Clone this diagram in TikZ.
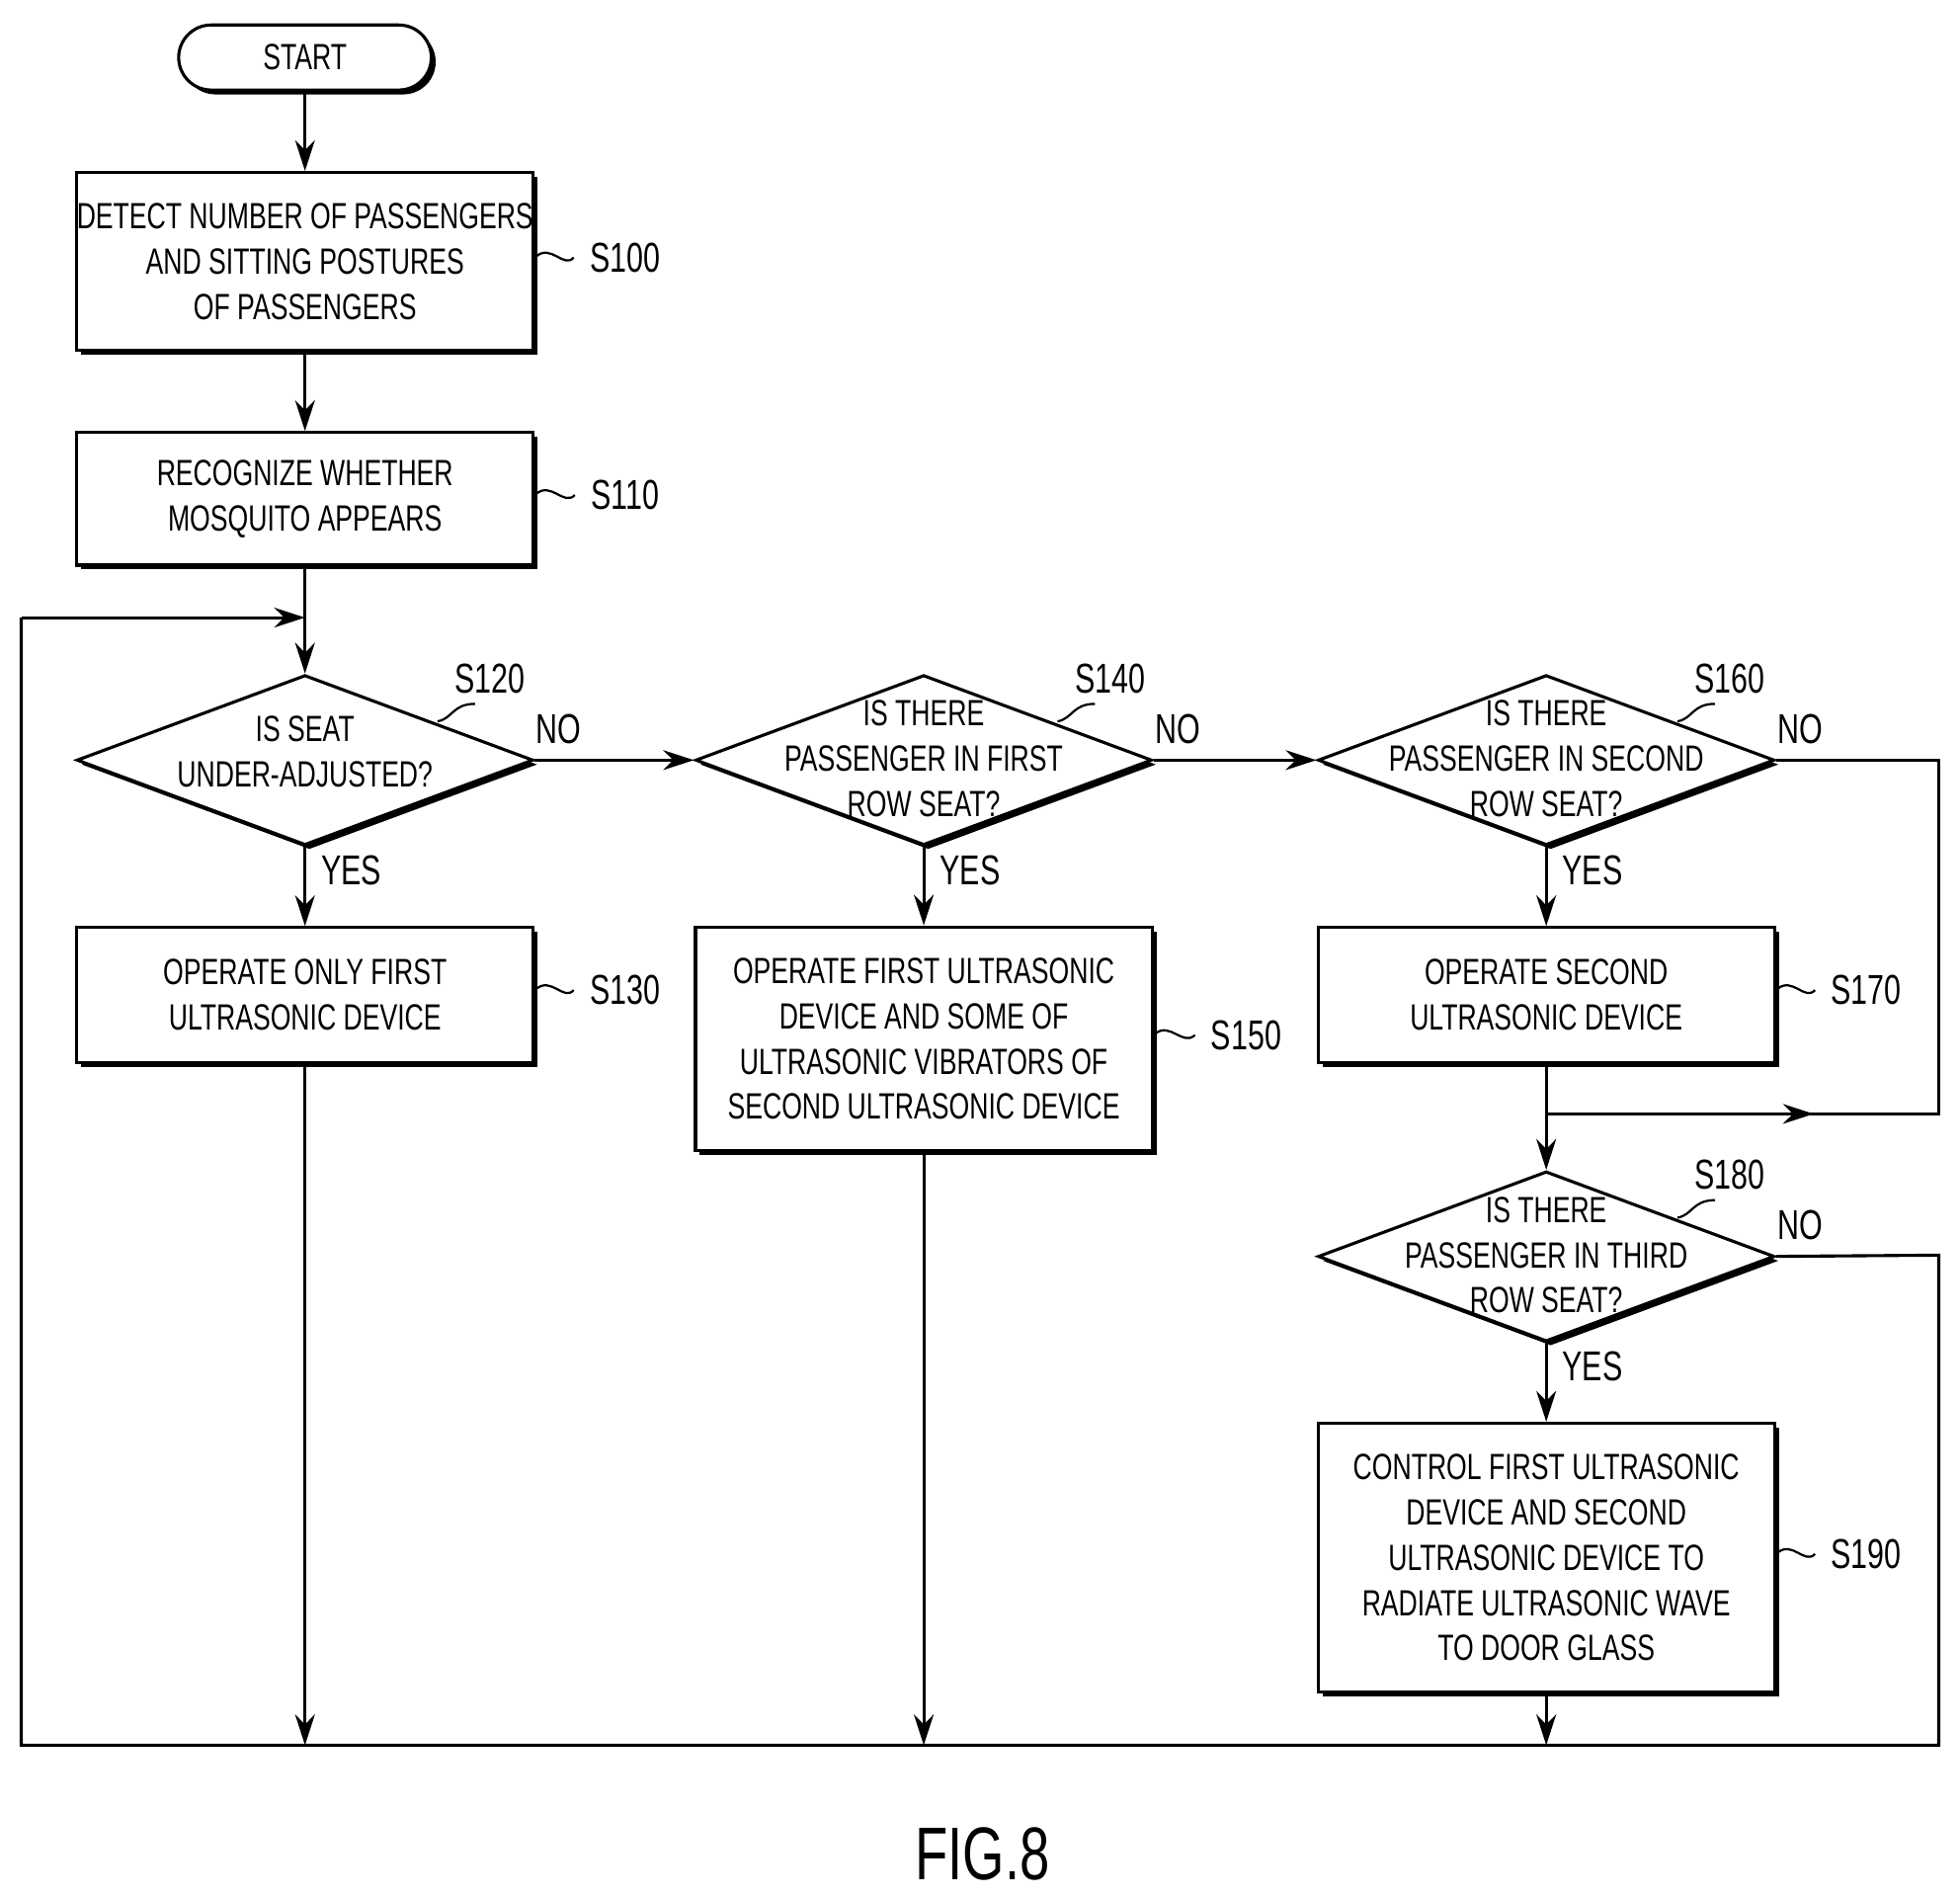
\documentclass[tikz,border=0pt]{standalone}
\usepackage{fontspec}
\setmainfont{Liberation Sans}[FakeStretch=0.72]
\usetikzlibrary{shapes.geometric,arrows.meta,shadows}
\begin{document}
\begin{tikzpicture}[x=0.01cm,y=-0.01cm,
  font=\fontsize{8.3}{10.3}\selectfont,
  line width=0.7pt,
  shd/.style={drop shadow={shadow xshift=0.035cm,shadow yshift=-0.035cm,opacity=1,fill=black}},
  box/.style={draw,fill=white,shd,rectangle,inner sep=0,align=center},
  dia/.style={draw,fill=white,shd,diamond,inner sep=0,minimum width=3.65cm,minimum height=1.36cm,shape aspect=2.68},
  arr/.style={-{Stealth[length=7pt,width=4.5pt]}},
  lab/.style={font=\fontsize{9.5}{11}\selectfont},
  yn/.style={font=\fontsize{9.5}{11}\selectfont}]
\useasboundingbox (0,0) rectangle (1568,1517);
% start
\node[draw,fill=white,shd,rounded corners=0.26cm,minimum width=2.02cm,minimum height=0.52cm] (start) at (244,46) {START};
% boxes
\node[box,minimum width=3.65cm,minimum height=1.42cm] (s100) at (244,209) {DETECT NUMBER OF PASSENGERS\\AND SITTING POSTURES\\OF PASSENGERS};
\node[box,minimum width=3.65cm,minimum height=1.06cm] (s110) at (244,399) {RECOGNIZE WHETHER\\MOSQUITO APPEARS};
\node[dia] (d120) at (244,608) {};
\node[align=center] at (244,601) {IS SEAT\\UNDER-ADJUSTED?};
\node[dia] (d140) at (739,608) {};
\node[align=center] at (739,607) {IS THERE\\PASSENGER IN FIRST\\ROW SEAT?};
\node[dia] (d160) at (1237,608) {};
\node[align=center] at (1237,607) {IS THERE\\PASSENGER IN SECOND\\ROW SEAT?};
\node[box,minimum width=3.65cm,minimum height=1.08cm] (s130) at (244,796) {OPERATE ONLY FIRST\\ULTRASONIC DEVICE};
\node[box,minimum width=3.65cm,minimum height=1.79cm] (s150) at (739,831) {OPERATE FIRST ULTRASONIC\\DEVICE AND SOME OF\\ULTRASONIC VIBRATORS OF\\SECOND ULTRASONIC DEVICE};
\node[box,minimum width=3.65cm,minimum height=1.08cm] (s170) at (1237,796) {OPERATE SECOND\\ULTRASONIC DEVICE};
\node[dia] (d180) at (1237,1005) {};
\node[align=center] at (1237,1004) {IS THERE\\PASSENGER IN THIRD\\ROW SEAT?};
\node[box,minimum width=3.65cm,minimum height=2.15cm] (s190) at (1237,1246) {CONTROL FIRST ULTRASONIC\\DEVICE AND SECOND\\ULTRASONIC DEVICE TO\\RADIATE ULTRASONIC WAVE\\TO DOOR GLASS};
% coordinates
\coordinate (loopL) at (17,494); \coordinate (loopT) at (244,494);
\coordinate (bl) at (17,1396); \coordinate (br) at (1551,1396);
\coordinate (b1) at (244,1396); \coordinate (b2) at (739,1396); \coordinate (b3) at (1237,1396);
\coordinate (m) at (1237,891); \coordinate (r1) at (1551,608); \coordinate (r2) at (1551,891); \coordinate (r3) at (1551,1004);
% connectors
\draw[arr] (start) -- (s100);
\draw[arr] (s100) -- (s110);
\draw (s110) -- (loopT);
\draw[arr] (loopT) -- (d120.north);
\draw[arr] (d120.east) -- node[pos=0.15,above,yn]{NO} (d140.west);
\draw[arr] (d140.east) -- node[pos=0.15,above,yn]{NO} (d160.west);
\draw[arr] (d120.south) -- node[pos=0.3,right,yn]{YES} (s130);
\draw[arr] (d140.south) -- node[pos=0.3,right,yn]{YES} (s150);
\draw[arr] (d160.south) -- node[pos=0.3,right,yn]{YES} (s170);
\draw (d160.east) -- node[pos=0.15,above,yn]{NO} (r1) -- (r2) -- (m);
\draw[arr] (m) -- (1451,891);
\draw[arr] (s170) -- (d180.north);
\draw[arr] (d180.south) -- node[pos=0.3,right,yn]{YES} (s190);
\draw (d180.east) -- node[pos=0.15,above,yn]{NO} (r3) -- (br) -- (bl) -- (loopL);
\draw[arr] (loopL) -- (loopT);
\draw[arr] (s130) -- (b1);
\draw[arr] (s150) -- (b2);
\draw[arr] (s190) -- (b3);
% step labels
\foreach \n/\x/\y/\ax/\ay in {S100/500/206/429/205,S110/500/396/429/395,S130/500/792/429/791,S150/997/828/924/827,S170/1493/792/1422/791,S190/1493/1243/1422/1242}{
  \node[lab] (l\n) at (\x,\y) {\n};
  \draw[line width=0.5pt] (\ax,\ay) .. controls (\ax+12,\ay-10) and (\ax+22,\ay+10) .. (l\n.west);
}
\foreach \n/\x/\y/\ax/\ay in {S120/392/543/350/577,S140/888/543/846/577,S160/1384/543/1342/577,S180/1384/940/1342/974}{
  \node[lab] (l\n) at (\x,\y) {\n};
  \draw[line width=0.5pt] (\ax,\ay) .. controls (\ax+12,\ay-2) and (\ax+12,\ay-14) .. (\x-12,\y+20);
}
\node[font=\fontsize{17}{20}\selectfont] (fig) at (786,1483) {FIG.8};
\end{tikzpicture}
\end{document}
